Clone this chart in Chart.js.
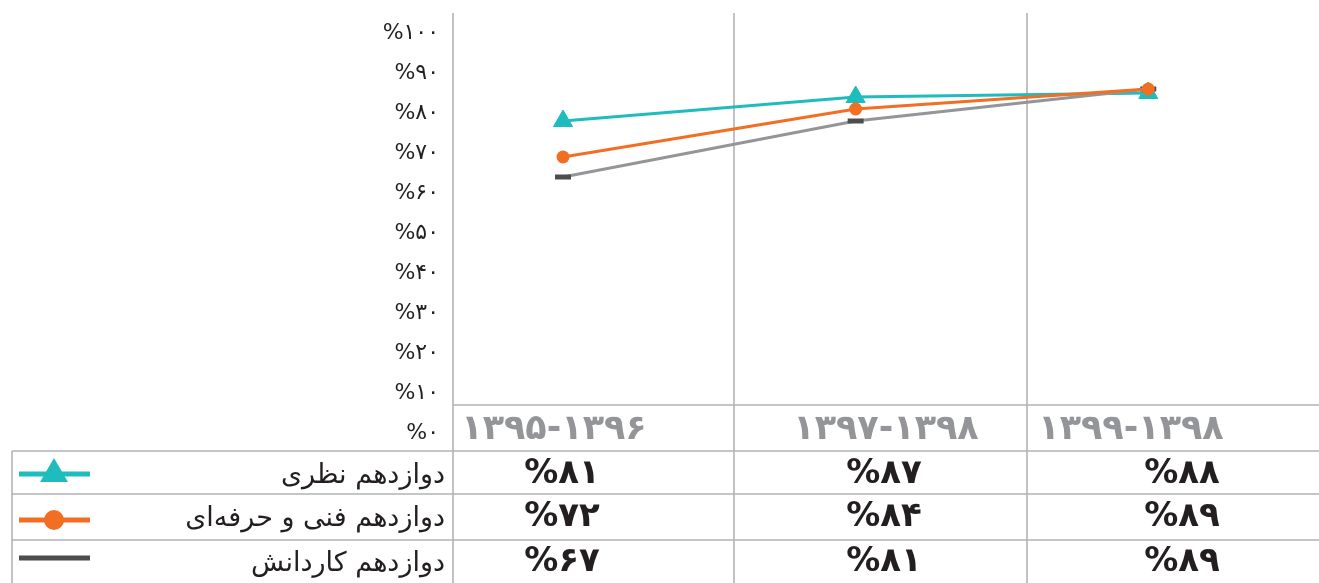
<!DOCTYPE html>
<html>
<head>
<meta charset="utf-8">
<script src="https://cdn.jsdelivr.net/npm/chart.js@4/dist/chart.umd.min.js"></script>
<style>
  html, body { margin: 0; padding: 0; background: #ffffff; }
  #wrap { position: relative; width: 1319px; height: 583px; }
</style>
</head>
<body>
<div id="wrap"><canvas id="c"></canvas></div>
<script>
// ---------- data ----------
const toFa = v => String(v).replace(/\d/g, d => '۰۱۲۳۴۵۶۷۸۹'[d]);

const categories = ['۱۳۹۵-۱۳۹۶', '۱۳۹۷-۱۳۹۸', '۱۳۹۹-۱۳۹۸'];
const seriesNames = ['دوازدهم نظری', 'دوازدهم فنی و حرفه‌ای', 'دوازدهم کاردانش'];
const nazari    = [81, 87, 88];
const fanni     = [72, 84, 89];
const kardanesh = [67, 81, 89];
const yTickValues = [0, 10, 20, 30, 40, 50, 60, 70, 80, 90, 100];
const yTickLabels = yTickValues.map(v => '%' + toFa(v));

// ---------- style / layout ----------
const TEAL = '#1fbcbd', ORANGE = '#f26e22', GRAY_LINE = '#939598', GRAY_MARK = '#4d4d4f';
const GRID = '#b1b3b6';
const FONT = '"DejaVu Sans", sans-serif';
const COL_X = [453, 734, 1027];          // table column separators
const ROW_Y = [405, 451, 494, 540];      // table row separators
const CAT_CX = [554, 886, 1131];         // header label centres
const VAL_CX = [562, 884, 1182];         // value centres
const ROW_CY = [474, 517, 562];          // row text centres

const seriesData = [nazari, fanni, kardanesh];

const tablePlugin = {
  id: 'tablePlugin',
  beforeDatasetsDraw(chart) {
    const ctx = chart.ctx;
    ctx.save();
    ctx.strokeStyle = GRID;
    ctx.lineWidth = 1.6;
    ctx.beginPath();
    COL_X.forEach(x => { ctx.moveTo(x, 13); ctx.lineTo(x, 583); });
    ctx.moveTo(12, ROW_Y[1]); ctx.lineTo(12, 583);
    ctx.moveTo(COL_X[0], ROW_Y[0]); ctx.lineTo(1319, ROW_Y[0]);
    for (let r = 1; r < ROW_Y.length; r++) { ctx.moveTo(12, ROW_Y[r]); ctx.lineTo(1319, ROW_Y[r]); }
    ctx.stroke();
    ctx.restore();
  },
  afterDraw(chart) {
    const ctx = chart.ctx;
    ctx.save();
    ctx.textBaseline = 'middle';
    ctx.textAlign = 'center';
    // header categories
    ctx.fillStyle = '#939598';
    ctx.font = 'bold 35px ' + FONT;
    categories.forEach((c, i) => ctx.fillText(c, CAT_CX[i], 430));
    // values
    ctx.fillStyle = '#231f20';
    ctx.font = 'bold 34px ' + FONT;
    seriesData.forEach((arr, r) => {
      arr.forEach((v, i) => ctx.fillText('%' + toFa(v), VAL_CX[i], ROW_CY[r]));
    });
    // legend names
    ctx.textAlign = 'right';
    ctx.font = '27px ' + FONT;
    seriesNames.forEach((n, r) => ctx.fillText(n, 445, ROW_CY[r] + 2));
    // legend symbols
    const ly = [474, 520, 558];
    ctx.fillStyle = TEAL; ctx.fillRect(19, ly[0] - 2.5, 71, 5);
    ctx.beginPath(); ctx.moveTo(54, ly[0] - 16); ctx.lineTo(68, ly[0] + 8); ctx.lineTo(40, ly[0] + 8); ctx.closePath(); ctx.fill();
    ctx.fillStyle = ORANGE; ctx.fillRect(19, ly[1] - 2.5, 71, 5);
    ctx.beginPath(); ctx.arc(54, ly[1], 10, 0, Math.PI * 2); ctx.fill();
    ctx.fillStyle = GRAY_MARK; ctx.fillRect(19, ly[2] - 2.5, 71, 5);
    ctx.restore();
  }
};

const toPts = arr => arr.map((v, i) => ({ x: i, y: v }));

new Chart(document.getElementById('c'), {
  type: 'line',
  data: {
    datasets: [
      { label: seriesNames[0], data: toPts(nazari), borderColor: TEAL, backgroundColor: TEAL,
        pointStyle: 'triangle', pointRadius: 11, pointBorderWidth: 1, pointBackgroundColor: TEAL,
        pointBorderColor: TEAL, borderWidth: 3, order: 3, yAxisID: 'y', clip: false },
      { label: seriesNames[1], data: toPts(fanni), borderColor: ORANGE, backgroundColor: ORANGE,
        pointStyle: 'circle', pointRadius: 6.5, pointBorderWidth: 0, pointBackgroundColor: ORANGE,
        borderWidth: 3, order: 1, yAxisID: 'y', clip: false },
      { label: seriesNames[2], data: toPts(kardanesh), borderColor: GRAY_LINE, backgroundColor: GRAY_MARK,
        pointStyle: 'line', pointRadius: 8, pointBorderWidth: 5, pointBorderColor: GRAY_MARK,
        borderWidth: 3, order: 2, yAxisID: 'y', clip: false }
    ]
  },
  options: {
    responsive: true,
    maintainAspectRatio: false,
    animation: false,
    layout: { padding: { top: 33, bottom: 138, left: 0, right: 0 } },
    plugins: { legend: { display: false }, tooltip: { enabled: false } },
    elements: { line: { tension: 0 } },
    scales: {
      x: { type: 'linear', min: -0.376, max: 2.539, display: false },
      y: { min: 0, max: 103, display: false },
      yl: {
        position: 'left', min: -3, max: 100,
        afterBuildTicks: s => { s.ticks = yTickValues.map(v => ({ value: v })); },
        afterFit: s => { s.width = 453; },
        grid: { display: false }, border: { display: false },
        ticks: {
          padding: 6, color: '#231f20', font: { family: FONT, size: 22 },
          callback: v => yTickLabels[yTickValues.indexOf(v)]
        }
      }
    }
  },
  plugins: [tablePlugin]
});
</script>
</body>
</html>
